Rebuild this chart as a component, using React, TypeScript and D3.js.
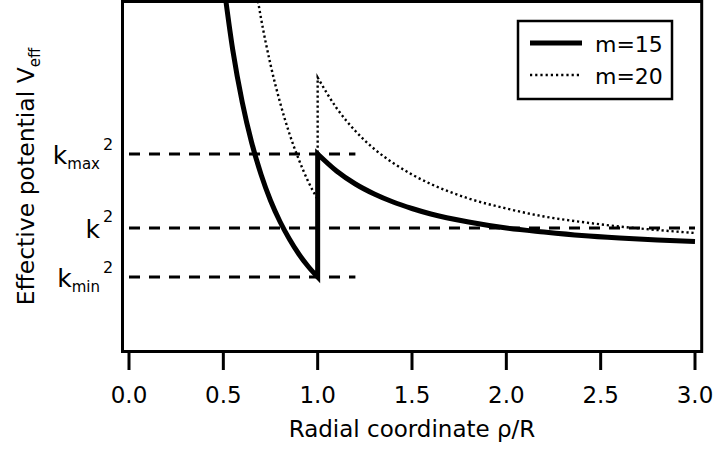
import React from "react";
import * as d3 from "d3";

// radial coordinate samples (rho/R) and effective potential values
const rhoCore15 = [0.5, 0.55, 0.6, 0.65, 0.7, 0.75, 0.8, 0.85, 0.9, 0.95, 1.0];
const vCore15 = [7.4, 6.03, 4.99, 4.18, 3.54, 3.02, 2.6, 2.25, 1.95, 1.7, 1.49];
const rhoClad15 = [1.0, 1.1, 1.2, 1.3, 1.4, 1.5, 1.6, 1.8, 2.0, 2.2, 2.4, 2.6, 2.8, 3.0];
const vClad15 = [3.95, 3.61, 3.35, 3.15, 2.99, 2.86, 2.75, 2.59, 2.47, 2.39, 2.32, 2.27, 2.23, 2.2];

const rhoCore20 = [0.65, 0.7, 0.75, 0.8, 0.85, 0.9, 0.95, 1.0];
const vCore20 = [7.8, 6.66, 5.74, 4.99, 4.36, 3.84, 3.4, 3.04];
const rhoClad20 = [1.0, 1.1, 1.2, 1.3, 1.4, 1.5, 1.6, 1.8, 2.0, 2.2, 2.4, 2.6, 2.8, 3.0];
const vClad20 = [5.48, 4.87, 4.41, 4.05, 3.77, 3.54, 3.35, 3.06, 2.86, 2.7, 2.59, 2.5, 2.43, 2.37];

// reference levels
const levelNames = ["max", "", "min"];
const levelValues = [3.95, 2.47, 1.49];
const levelEnds = [1.2, 3.0, 1.2];

const xTicks = [0, 0.5, 1.0, 1.5, 2.0, 2.5, 3.0];
const legendLabels = ["m=15", "m=20"];

const W = 716;
const H = 449;
const FONT = "'DejaVu Sans', Verdana, sans-serif";

export default function App() {
  const x = d3.scaleLinear().domain([0, 3]).range([129, 695]);
  const y = d3.scaleLinear().domain([0, 7]).range([351.5, 1.5]);

  const frame = { left: 122.5, right: 701.7, top: 1.5, bottom: 351.5 };

  const line = d3
    .line<[number, number]>()
    .x((d) => x(d[0]))
    .y((d) => y(d[1]))
    .curve(d3.curveMonotoneX);

  const zip = (a: number[], b: number[]) => a.map((v, i) => [v, b[i]] as [number, number]);

  const joined = (rc: number[], vc: number[], ro: number[], vo: number[]) => {
    const p1 = line(zip(rc, vc)) || "";
    const p2 = (line(zip(ro, vo)) || "").replace(/^M/, "L");
    return p1 + p2;
  };

  const path15 = joined(rhoCore15, vCore15, rhoClad15, vClad15);
  const path20 = joined(rhoCore20, vCore20, rhoClad20, vClad20);

  return (
    <svg
      width={W}
      height={H}
      style={{ position: "absolute", left: 0, top: 0, background: "#fff" }}
      fontFamily={FONT}
    >
      <defs>
        <clipPath id="plot">
          <rect
            x={frame.left}
            y={frame.top}
            width={frame.right - frame.left}
            height={frame.bottom - frame.top}
          />
        </clipPath>
      </defs>

      {/* dashed reference levels */}
      {levelValues.map((v, i) => (
        <line
          key={"lv" + i}
          x1={x(0)}
          x2={x(levelEnds[i])}
          y1={y(v)}
          y2={y(v)}
          stroke="#000"
          strokeWidth={3}
          strokeDasharray="11 9"
        />
      ))}

      {/* curves */}
      <g clipPath="url(#plot)">
        <path d={path20} fill="none" stroke="#000" strokeWidth={2.4} strokeDasharray="2.2 2.8" />
        <path d={path15} fill="none" stroke="#000" strokeWidth={5} strokeLinejoin="miter" />
      </g>

      {/* frame */}
      <rect
        x={frame.left}
        y={frame.top}
        width={frame.right - frame.left}
        height={frame.bottom - frame.top}
        fill="none"
        stroke="#000"
        strokeWidth={3}
      />

      {/* x ticks */}
      {xTicks.map((t) => (
        <g key={"t" + t}>
          <line x1={x(t)} x2={x(t)} y1={frame.bottom} y2={370} stroke="#000" strokeWidth={3} />
          <text x={x(t)} y={403} textAnchor="middle" fontSize={23}>
            {d3.format(".1f")(t)}
          </text>
        </g>
      ))}

      <text x={412} y={437} textAnchor="middle" fontSize={23}>
        Radial coordinate ρ/R
      </text>

      {/* y title */}
      <text
        transform={`translate(34, ${(frame.top + frame.bottom) / 2}) rotate(-90)`}
        textAnchor="middle"
        fontSize={23.5}
      >
        Effective potential V
        <tspan fontSize={15} dy={6}>
          eff
        </tspan>
      </text>

      {/* level labels */}
      {levelValues.map((v, i) => (
        <g key={"ll" + i}>
          <text x={100} y={y(v) + 10} textAnchor="end" fontSize={25}>
            k
            {levelNames[i] ? (
              <tspan fontSize={15} dy={5}>
                {levelNames[i]}
              </tspan>
            ) : null}
          </text>
          <text x={103} y={y(v) - (levelNames[i] ? 4 : 6)} fontSize={16}>
            2
          </text>
        </g>
      ))}

      {/* legend */}
      <rect x={518} y={21} width={154} height={78} fill="#fff" stroke="#000" strokeWidth={2.5} />
      <line x1={530} x2={582} y1={43} y2={43} stroke="#000" strokeWidth={5} />
      <line x1={530} x2={582} y1={75} y2={75} stroke="#000" strokeWidth={2.4} strokeDasharray="2.2 3" />
      <text x={595} y={52} fontSize={22}>
        {legendLabels[0]}
      </text>
      <text x={595} y={84} fontSize={22}>
        {legendLabels[1]}
      </text>
    </svg>
  );
}
